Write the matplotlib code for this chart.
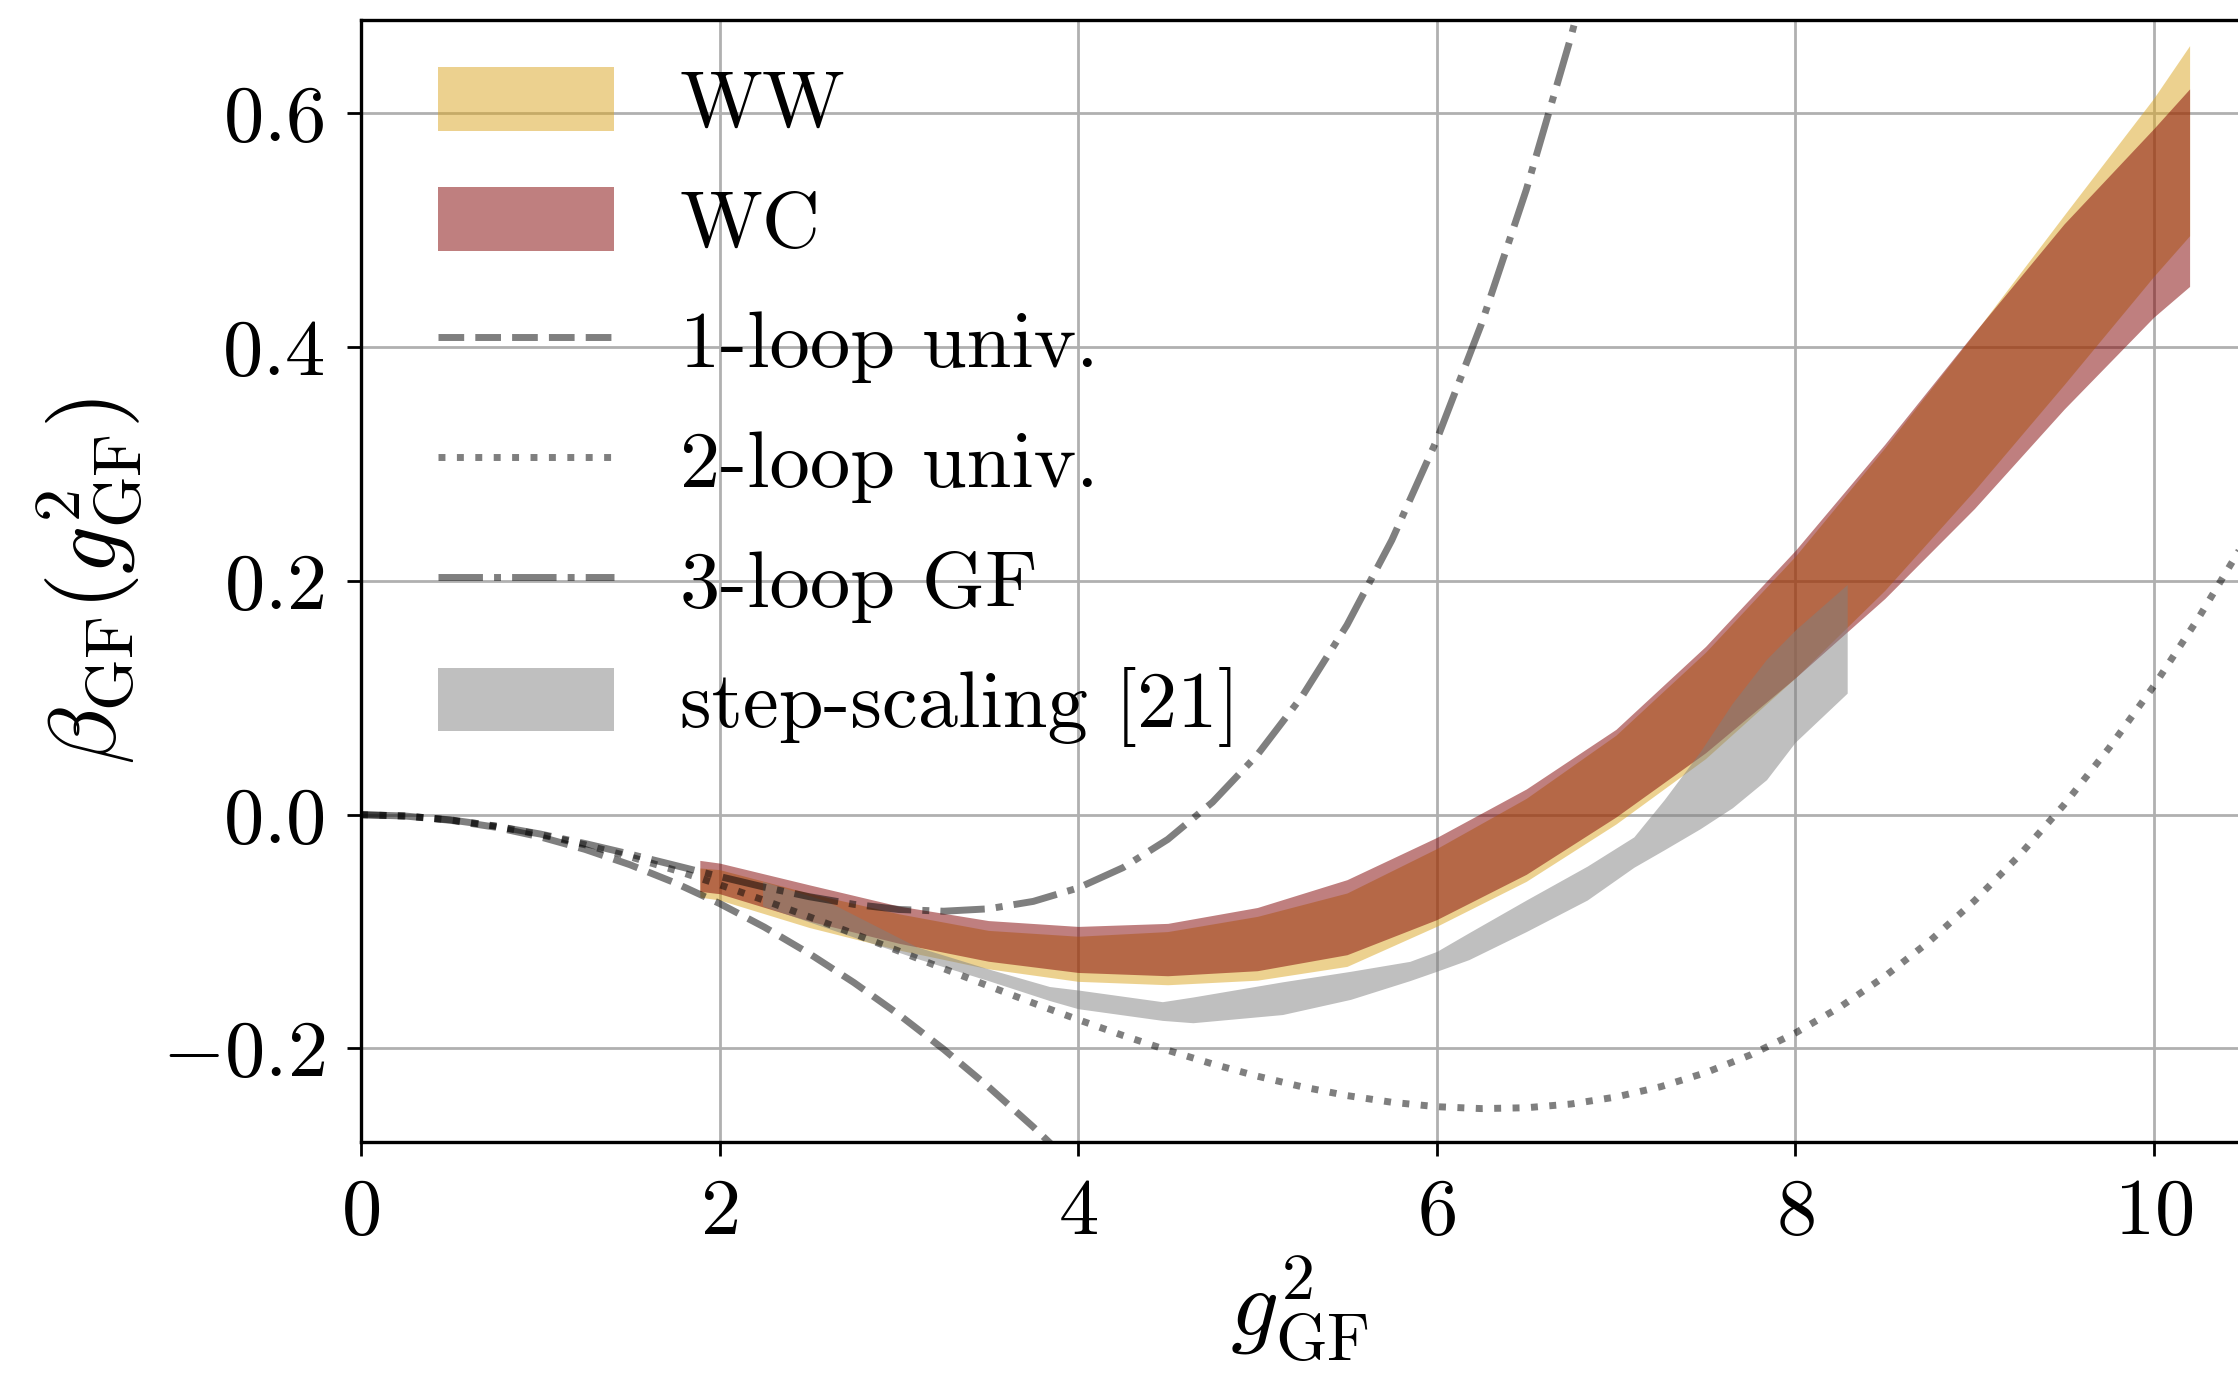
import matplotlib
matplotlib.use("Agg")
import matplotlib.pyplot as plt
from matplotlib.patches import Patch
from matplotlib.lines import Line2D

plt.rcParams['font.family'] = 'serif'
plt.rcParams['font.serif'] = ['cmr10']
plt.rcParams['mathtext.fontset'] = 'cm'
plt.rcParams['axes.unicode_minus'] = False

# ---------------- data ----------------
x_band = [1.89, 2.0, 2.5, 3.0, 3.5, 4.0, 4.5, 5.0, 5.5, 6.0, 6.5, 7.0, 7.5,
          8.0, 8.5, 9.0, 9.5, 10.0, 10.2]
ww_lo = [-0.0705, -0.073, -0.0965, -0.1158, -0.1319, -0.1426, -0.1455, -0.1416,
         -0.1298, -0.0955, -0.057, -0.008, 0.048, 0.117, 0.192, 0.2775, 0.368,
         0.4606, 0.4954]
ww_hi = [-0.0456, -0.047, -0.0672, -0.0848, -0.0990, -0.104, -0.100, -0.087,
         -0.067, -0.029, 0.014, 0.068, 0.139, 0.221, 0.314, 0.412, 0.513,
         0.613, 0.658]
wc_lo = [-0.0656, -0.0676, -0.091, -0.110, -0.1254, -0.135, -0.1378, -0.1335,
         -0.1198, -0.0898, -0.051, -0.002, 0.053, 0.117, 0.185, 0.262, 0.347,
         0.4257, 0.452]
wc_hi = [-0.0391, -0.0414, -0.060, -0.0782, -0.0906, -0.0956, -0.093, -0.0794,
         -0.0556, -0.0195, 0.022, 0.073, 0.144, 0.226, 0.317, 0.4126, 0.5055,
         0.587, 0.621]

x_ss = [2.24, 2.6, 3.1, 3.5, 3.84, 4.0, 4.47, 4.64, 5.14, 5.52, 5.85, 6.0, 6.18,
        6.5, 6.84, 7.1, 7.27, 7.47, 7.65, 7.84, 8.0, 8.29]
ss_hi = [-0.057, -0.074, -0.113, -0.132, -0.147, -0.150, -0.160, -0.156, -0.143,
         -0.134, -0.1255, -0.117, -0.101, -0.073, -0.044, -0.019, 0.013, 0.054,
         0.0955, 0.133, 0.158, 0.197]
ss_lo = [-0.078, -0.097, -0.123, -0.142, -0.159, -0.166, -0.176, -0.178, -0.171,
         -0.158, -0.142, -0.134, -0.124, -0.100, -0.073, -0.045, -0.030, -0.012,
         0.006, 0.030, 0.062, 0.104]

x_1loop = [0, 0.25, 0.5, 0.75, 1.0, 1.25, 1.5, 1.75, 2.0, 2.25, 2.5, 2.75, 3.0,
           3.25, 3.5, 3.75, 4.0]
y_1loop = [0, -0.0012, -0.0048, -0.0107, -0.019, -0.0297, -0.0428, -0.0582,
           -0.076, -0.0962, -0.1188, -0.1437, -0.171, -0.2007, -0.2328, -0.2672,
           -0.304]

x_2loop = [0, 0.25, 0.5, 0.75, 1.0, 1.25, 1.5, 1.75, 2.0, 2.25, 2.5, 2.75, 3.0,
           3.25, 3.5, 3.75, 4.0, 4.25, 4.5, 4.75, 5.0, 5.25, 5.5, 5.75, 6.0,
           6.25, 6.5, 6.75, 7.0, 7.25, 7.5, 7.75, 8.0, 8.25, 8.5, 8.75, 9.0,
           9.25, 9.5, 9.75, 10.0, 10.25, 10.5]
y_2loop = [0, -0.00116, -0.0045, -0.00984, -0.01699, -0.02576, -0.03597,
           -0.04742, -0.05992, -0.0733, -0.08734, -0.10189, -0.11673, -0.13169,
           -0.14657, -0.1612, -0.17536, -0.1889, -0.20159, -0.21328, -0.22375,
           -0.23285, -0.24034, -0.24608, -0.24984, -0.25148, -0.25075, -0.24754,
           -0.24157, -0.23275, -0.22078, -0.20559, -0.18688, -0.16458, -0.13836,
           -0.10818, -0.07371, -0.03491, 0.00857, 0.05685, 0.11, 0.16842, 0.23208]

x_3loop = [0, 0.25, 0.5, 0.75, 1.0, 1.25, 1.5, 1.75, 2.0, 2.25, 2.5, 2.75, 3.0,
           3.25, 3.5, 3.75, 4.0, 4.25, 4.5, 4.75, 5.0, 5.25, 5.5, 5.75, 6.0,
           6.25, 6.5, 6.75, 7.0]
y_3loop = [0, -0.00115, -0.00447, -0.0097, -0.01655, -0.02469, -0.03374,
           -0.04329, -0.05288, -0.06202, -0.07016, -0.07672, -0.08109, -0.0826,
           -0.08054, -0.07419, -0.06272, -0.04535, -0.02116, 0.01071, 0.05125,
           0.10142, 0.16229, 0.2349, 0.3204, 0.41992, 0.53467, 0.66586, 0.81487]

x_ticks = [0, 2, 4, 6, 8, 10]
x_ticklabels = ['$0$', '$2$', '$4$', '$6$', '$8$', '$10$']
y_ticks = [-0.2, 0.0, 0.2, 0.4, 0.6]
y_ticklabels = ['$-0.2$', '$0.0$', '$0.2$', '$0.4$', '$0.6$']

labels = ['WW', 'WC', '1-loop univ.', '2-loop univ.', '3-loop GF',
          'step-scaling [21]']

# ---------------- figure ----------------
fig = plt.figure(figsize=(11.19, 6.925), dpi=200)
ax = fig.add_axes([0.1613, 0.1755, 0.8387, 0.8101])

c_ww = 'goldenrod'
c_wc = 'maroon'
c_ss = 'gray'

ax.fill_between(x_band, ww_lo, ww_hi, color=c_ww, alpha=0.5, lw=0, zorder=2)
ax.fill_between(x_band, wc_lo, wc_hi, color=c_wc, alpha=0.5, lw=0, zorder=3)
ax.fill_between(x_ss, ss_lo, ss_hi, color=c_ss, alpha=0.5, lw=0, zorder=4)

lw = 2.5
ax.plot(x_1loop, y_1loop, ls='--', color='k', alpha=0.5, lw=lw, zorder=5)
ax.plot(x_2loop, y_2loop, ls=':', color='k', alpha=0.5, lw=lw, zorder=5)
ax.plot(x_3loop, y_3loop, ls='-.', color='k', alpha=0.5, lw=lw, zorder=5)

ax.set_xlim(0, 10.47)
ax.set_ylim(-0.28, 0.68)
ax.set_xticks(x_ticks, x_ticklabels)
ax.set_yticks(y_ticks, y_ticklabels)
ax.tick_params(labelsize=29, length=5, width=1.0, pad=8)
ax.grid(True, color='#b0b0b0', lw=1.0)
ax.set_axisbelow(True)
ax.spines['right'].set_visible(False)
for s in ['left', 'top', 'bottom']:
    ax.spines[s].set_linewidth(1.2)

ax.set_xlabel(r'$g^2_{\rm GF}$', fontsize=34, labelpad=2)
ax.set_ylabel(r'$\beta_{\rm GF}(g^2_{\rm GF})$', fontsize=34, labelpad=6)

handles = [
    Patch(facecolor=c_ww, alpha=0.5, lw=0),
    Patch(facecolor=c_wc, alpha=0.5, lw=0),
    Line2D([], [], ls='--', color='k', alpha=0.5, lw=lw),
    Line2D([], [], ls=':', color='k', alpha=0.5, lw=lw),
    Line2D([], [], ls='-.', color='k', alpha=0.5, lw=lw),
    Patch(facecolor=c_ss, alpha=0.5, lw=0),
]
ax.legend(handles, labels, loc='upper left', frameon=False, fontsize=29,
          handlelength=2.18, handleheight=0.84, handletextpad=0.82,
          labelspacing=0.55, borderaxespad=0, borderpad=0,
          bbox_to_anchor=(0.041, 0.958))

fig.savefig('out.png', dpi=200)
